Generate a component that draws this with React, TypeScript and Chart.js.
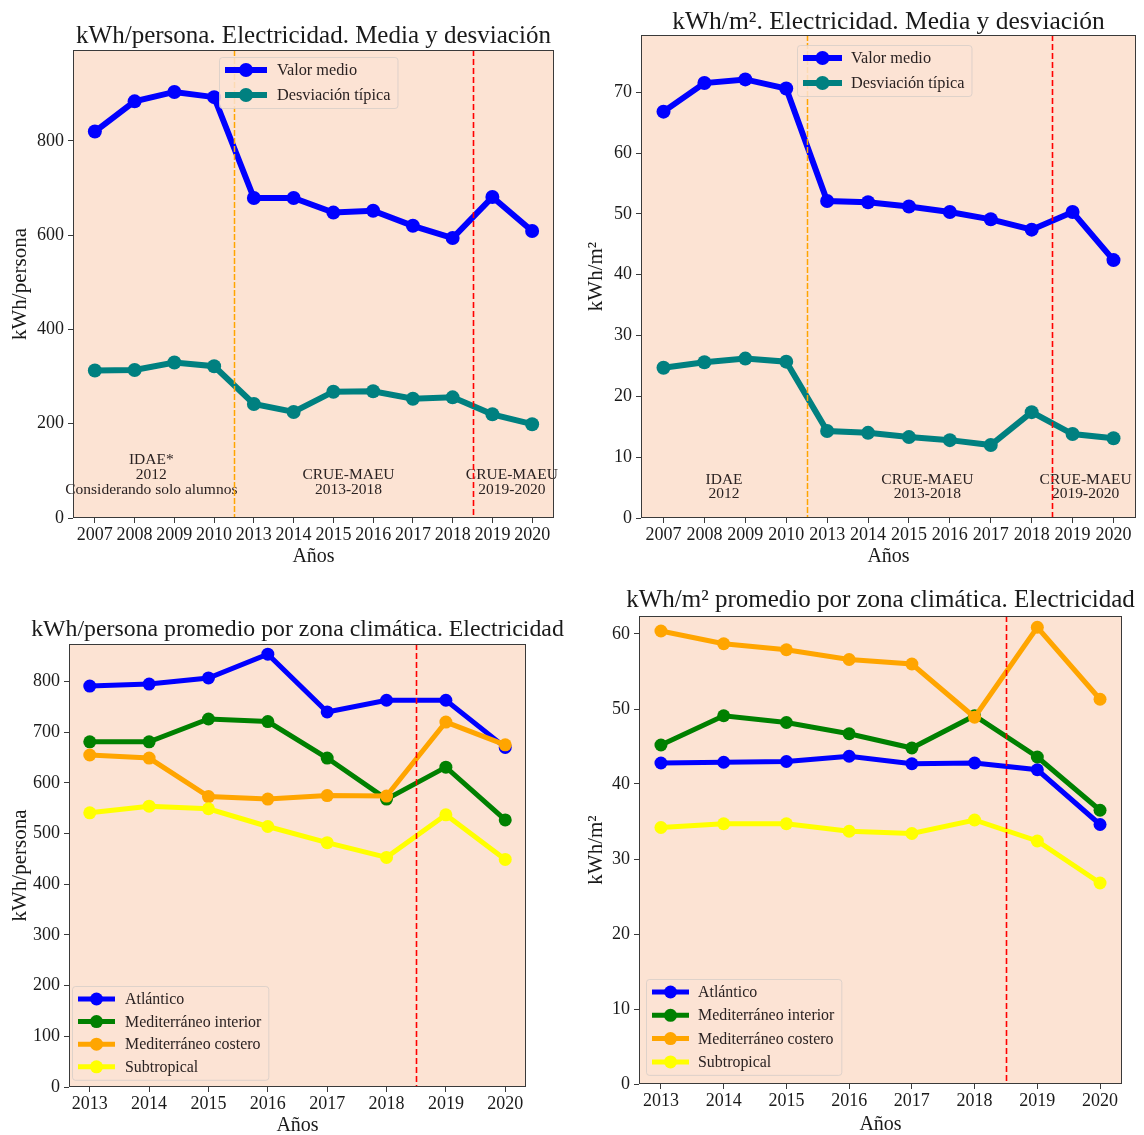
import React, { useEffect, useRef } from 'react';
import { Chart, registerables } from 'chart.js';
Chart.register(...registerables);

// ---------- data ----------
const yearsTop = ['2007', '2008', '2009', '2010', '2013', '2014', '2015', '2016', '2017', '2018', '2019', '2020'];
const yearsBottom = ['2013', '2014', '2015', '2016', '2017', '2018', '2019', '2020'];

const mediaPersona = [820, 884, 904, 893, 679, 679, 648, 652, 620, 594, 681, 609];
const desvPersona = [313, 314, 330, 322, 242, 225, 268, 269, 253, 256, 220, 199];
const mediaM2 = [66.8, 71.5, 72.1, 70.6, 52.1, 51.9, 51.2, 50.3, 49.1, 47.4, 50.3, 42.4];
const desvM2 = [24.7, 25.6, 26.2, 25.7, 14.3, 14.0, 13.3, 12.8, 12.0, 17.4, 13.8, 13.1];

const atlPersona = [791, 795, 807, 854, 740, 763, 763, 670];
const medIntPersona = [681, 681, 726, 721, 649, 568, 631, 527];
const medCosPersona = [655, 649, 573, 568, 575, 574, 720, 675];
const subPersona = [541, 554, 549, 514, 482, 453, 537, 449];

const atlM2 = [42.8, 42.9, 43.0, 43.7, 42.7, 42.8, 41.9, 34.6];
const medIntM2 = [45.2, 49.1, 48.2, 46.7, 44.8, 49.1, 43.6, 36.5];
const medCosM2 = [60.4, 58.7, 57.9, 56.6, 56.0, 48.9, 60.9, 51.3];
const subM2 = [34.2, 34.7, 34.7, 33.7, 33.4, 35.2, 32.4, 26.8];

const yTicksPersonaTop = [0, 200, 400, 600, 800];
const yTicksM2Top = [0, 10, 20, 30, 40, 50, 60, 70];
const yTicksPersonaBottom = [0, 100, 200, 300, 400, 500, 600, 700, 800];
const yTicksM2Bottom = [0, 10, 20, 30, 40, 50, 60];

// ---------- styles ----------
const FONT = '"Liberation Serif", "DejaVu Serif", serif';
const BG = '#fce3d3';
const SPINE = '#3a3a3a';
const TEXT = '#1a1a1a';
const BLUE = '#0000ff';
const TEAL = '#008080';
const GREEN = '#008000';
const ORANGE = '#ffa500';
const YELLOW = '#ffff00';
const RED = '#ff0000';

type Series = { label: string; data: number[]; color: string };
type Note = { x: number; y: number; text: string };
type VLine = { x: number; color: string; width: number; dash: number[] };
type Cfg = {
  left: number; top: number; width: number; height: number;
  area: { l: number; t: number; r: number; b: number };
  labels: string[];
  series: Series[];
  yMax: number; yTicks: number[];
  title: string; titleBase: number; titleFont: number;
  yTitle: string; yTitleX: number;
  xTitleBase: number;
  vlines: VLine[];
  notes: Note[];
  legend: { x: number; y: number; gap: number; sample: number; textX: number; font: number };
  lineWidth: number; radius: number;
};

const panels: Cfg[] = [
  {
    left: 0, top: 0, width: 572, height: 570,
    area: { l: 73, t: 50, r: 554, b: 518 },
    labels: yearsTop,
    series: [
      { label: 'Valor medio', data: mediaPersona, color: BLUE },
      { label: 'Desviación típica', data: desvPersona, color: TEAL },
    ],
    yMax: 993, yTicks: yTicksPersonaTop,
    title: 'kWh/persona. Electricidad. Media y desviación', titleBase: 43, titleFont: 25,
    yTitle: 'kWh/persona', yTitleX: 20, xTitleBase: 562,
    vlines: [
      { x: 3.5, color: ORANGE, width: 1.5, dash: [6, 2] },
      { x: 9.5, color: RED, width: 1.6, dash: [6, 3] },
    ],
    notes: [
      { x: 1.42, y: 123, text: 'IDAE*' },
      { x: 1.42, y: 91, text: '2012' },
      { x: 1.42, y: 59, text: 'Considerando solo alumnos' },
      { x: 6.38, y: 91, text: 'CRUE-MAEU' },
      { x: 6.38, y: 59, text: '2013-2018' },
      { x: 10.49, y: 91, text: 'CRUE-MAEU' },
      { x: 10.49, y: 59, text: '2019-2020' },
    ],
    legend: { x: 225, y: 70, gap: 25, sample: 42, textX: 277, font: 16.3 },
    lineWidth: 6, radius: 7,
  },
  {
    left: 572, top: 0, width: 572, height: 570,
    area: { l: 69, t: 35, r: 564, b: 518 },
    labels: yearsTop,
    series: [
      { label: 'Valor medio', data: mediaM2, color: BLUE },
      { label: 'Desviación típica', data: desvM2, color: TEAL },
    ],
    yMax: 79.4, yTicks: yTicksM2Top,
    title: 'kWh/m². Electricidad. Media y desviación', titleBase: 29, titleFont: 25.5,
    yTitle: 'kWh/m²', yTitleX: 24, xTitleBase: 562,
    vlines: [
      { x: 3.5, color: ORANGE, width: 1.5, dash: [6, 2] },
      { x: 9.5, color: RED, width: 1.6, dash: [6, 3] },
    ],
    notes: [
      { x: 1.48, y: 6.24, text: 'IDAE' },
      { x: 1.48, y: 3.94, text: '2012' },
      { x: 6.45, y: 6.24, text: 'CRUE-MAEU' },
      { x: 6.45, y: 3.94, text: '2013-2018' },
      { x: 10.32, y: 6.24, text: 'CRUE-MAEU' },
      { x: 10.32, y: 3.94, text: '2019-2020' },
    ],
    legend: { x: 231, y: 58, gap: 25, sample: 39, textX: 279, font: 16.3 },
    lineWidth: 6, radius: 7,
  },
  {
    left: 0, top: 570, width: 572, height: 565,
    area: { l: 69, t: 74, r: 526, b: 517 },
    labels: yearsBottom,
    series: [
      { label: 'Atlántico', data: atlPersona, color: BLUE },
      { label: 'Mediterráneo interior', data: medIntPersona, color: GREEN },
      { label: 'Mediterráneo costero', data: medCosPersona, color: ORANGE },
      { label: 'Subtropical', data: subPersona, color: YELLOW },
    ],
    yMax: 874, yTicks: yTicksPersonaBottom,
    title: 'kWh/persona promedio por zona climática. Electricidad', titleBase: 66, titleFont: 23.8,
    yTitle: 'kWh/persona', yTitleX: 20, xTitleBase: 561,
    vlines: [{ x: 5.5, color: RED, width: 1.6, dash: [6, 3] }],
    notes: [],
    legend: { x: 78, y: 429, gap: 22.6, sample: 37, textX: 125, font: 15.9 },
    lineWidth: 5, radius: 6.5,
  },
  {
    left: 572, top: 570, width: 572, height: 565,
    area: { l: 67, t: 46, r: 550, b: 514 },
    labels: yearsBottom,
    series: [
      { label: 'Atlántico', data: atlM2, color: BLUE },
      { label: 'Mediterráneo interior', data: medIntM2, color: GREEN },
      { label: 'Mediterráneo costero', data: medCosM2, color: ORANGE },
      { label: 'Subtropical', data: subM2, color: YELLOW },
    ],
    yMax: 62.4, yTicks: yTicksM2Bottom,
    title: 'kWh/m² promedio por zona climática. Electricidad', titleBase: 37, titleFont: 25,
    yTitle: 'kWh/m²', yTitleX: 24, xTitleBase: 560,
    vlines: [{ x: 5.5, color: RED, width: 1.6, dash: [6, 3] }],
    notes: [],
    legend: { x: 80, y: 422, gap: 23.3, sample: 37, textX: 126, font: 15.9 },
    lineWidth: 5, radius: 6.5,
  },
];

function makePlugin(cfg: Cfg) {
  return {
    id: 'panelDeco',
    beforeDraw(chart: any) {
      const { ctx, chartArea: a } = chart;
      ctx.save();
      ctx.fillStyle = '#ffffff';
      ctx.fillRect(0, 0, chart.width, chart.height);
      ctx.fillStyle = BG;
      ctx.fillRect(a.left, a.top, a.right - a.left, a.bottom - a.top);
      // annotations
      const xs = chart.scales.x, ys = chart.scales.y;
      ctx.fillStyle = '#2a2222';
      ctx.font = `15.5px ${FONT}`;
      ctx.textAlign = 'center';
      ctx.textBaseline = 'middle';
      for (const n of cfg.notes) {
        ctx.fillText(n.text, xs.getPixelForValue(n.x), ys.getPixelForValue(n.y));
      }
      ctx.restore();
    },
    afterDatasetsDraw(chart: any) {
      const { ctx, chartArea: a } = chart;
      const xs = chart.scales.x;
      ctx.save();
      for (const v of cfg.vlines) {
        const px = Math.round(xs.getPixelForValue(v.x)) + 0.5;
        ctx.strokeStyle = v.color;
        ctx.lineWidth = v.width;
        ctx.setLineDash(v.dash);
        ctx.beginPath();
        ctx.moveTo(px, a.top);
        ctx.lineTo(px, a.bottom);
        ctx.stroke();
      }
      ctx.setLineDash([]);
      // legend
      const L = cfg.legend;
      ctx.font = `${L.font}px ${FONT}`;
      const tw = Math.max(...cfg.series.map((s) => ctx.measureText(s.label).width));
      const n = cfg.series.length;
      const fl = L.x - 6, fr = L.textX + tw + 7, ft = L.y - 13, fb = L.y + L.gap * (n - 1) + 13;
      ctx.fillStyle = 'rgba(252,227,211,0.85)';
      ctx.strokeStyle = 'rgba(215,205,200,0.8)';
      ctx.lineWidth = 1;
      ctx.beginPath();
      (ctx as any).roundRect(fl + 0.5, ft + 0.5, fr - fl, fb - ft, 3);
      ctx.fill();
      ctx.stroke();
      cfg.series.forEach((s, i) => {
        const y = L.y + L.gap * i;
        ctx.strokeStyle = s.color;
        ctx.lineWidth = cfg.lineWidth;
        ctx.beginPath();
        ctx.moveTo(L.x, y);
        ctx.lineTo(L.x + L.sample, y);
        ctx.stroke();
        ctx.fillStyle = s.color;
        ctx.beginPath();
        ctx.arc(L.x + L.sample / 2, y, cfg.radius, 0, Math.PI * 2);
        ctx.fill();
        ctx.fillStyle = '#2a2222';
        ctx.textAlign = 'left';
        ctx.textBaseline = 'middle';
        ctx.fillText(s.label, L.textX, y + 1);
      });
      ctx.restore();
    },
    afterDraw(chart: any) {
      const { ctx, chartArea: a } = chart;
      ctx.save();
      ctx.strokeStyle = SPINE;
      ctx.lineWidth = 1;
      ctx.strokeRect(a.left + 0.5, a.top + 0.5, a.right - a.left - 1, a.bottom - a.top - 1);
      ctx.fillStyle = TEXT;
      // title
      ctx.font = `${cfg.titleFont}px ${FONT}`;
      ctx.textAlign = 'center';
      ctx.textBaseline = 'alphabetic';
      const cx = (a.left + a.right) / 2;
      ctx.fillText(cfg.title, cx, cfg.titleBase);
      // x title
      ctx.font = `20px ${FONT}`;
      ctx.fillText('Años', cx, cfg.xTitleBase);
      // y title
      ctx.font = `21px ${FONT}`;
      ctx.translate(cfg.yTitleX, (a.top + a.bottom) / 2);
      ctx.rotate(-Math.PI / 2);
      ctx.textBaseline = 'middle';
      ctx.fillText(cfg.yTitle, 0, 0);
      ctx.restore();
    },
  };
}

function Panel({ cfg }: { cfg: Cfg }) {
  const ref = useRef<HTMLCanvasElement>(null);
  useEffect(() => {
    const n = cfg.labels.length;
    const margin = 0.05 * (n - 1);
    const xTickVals = cfg.labels.map((_, i) => i);
    const chart = new Chart(ref.current as HTMLCanvasElement, {
      type: 'line',
      data: {
        datasets: cfg.series.map((s, i) => ({
          label: s.label,
          data: s.data.map((v, j) => ({ x: j, y: v })),
          borderColor: s.color,
          backgroundColor: s.color,
          pointBackgroundColor: s.color,
          pointBorderColor: s.color,
          pointBorderWidth: 0,
          pointRadius: cfg.radius,
          borderWidth: cfg.lineWidth,
          tension: 0,
          fill: false,
          order: cfg.series.length - i,
        })),
      },
      options: {
        animation: false,
        responsive: false,
        events: [],
        layout: {
          padding: { left: 0, top: cfg.area.t, right: cfg.width - cfg.area.r, bottom: 0 },
        },
        plugins: {
          legend: { display: false },
          title: { display: false },
          tooltip: { enabled: false },
        },
        scales: {
          x: {
            type: 'linear',
            min: -margin,
            max: n - 1 + margin,
            afterBuildTicks: (scale: any) => {
              scale.ticks = xTickVals.map((v) => ({ value: v }));
            },
            afterFit: (scale: any) => {
              scale.height = cfg.height - cfg.area.b;
            },
            ticks: {
              autoSkip: false,
              maxRotation: 0,
              minRotation: 0,
              padding: 1,
              color: TEXT,
              font: { family: FONT, size: 18 },
              callback: (v: any) => cfg.labels[Math.round(Number(v))] ?? '',
            },
            grid: { display: true, drawOnChartArea: false, drawTicks: true, tickLength: 5, tickColor: SPINE },
            border: { display: false },
          },
          y: {
            type: 'linear',
            min: 0,
            max: cfg.yMax,
            afterBuildTicks: (scale: any) => {
              scale.ticks = cfg.yTicks.map((v) => ({ value: v }));
            },
            afterFit: (scale: any) => {
              scale.width = cfg.area.l;
            },
            ticks: {
              autoSkip: false,
              padding: 4,
              color: TEXT,
              font: { family: FONT, size: 18 },
              callback: (v: any) => String(v),
            },
            grid: { display: true, drawOnChartArea: false, drawTicks: true, tickLength: 5, tickColor: SPINE },
            border: { display: false },
          },
        },
      },
      plugins: [makePlugin(cfg)],
    } as any);
    return () => chart.destroy();
  }, []);
  return (
    <div style={{ position: 'absolute', left: cfg.left, top: cfg.top, width: cfg.width, height: cfg.height }}>
      <canvas ref={ref} width={cfg.width} height={cfg.height} style={{ width: cfg.width, height: cfg.height, display: 'block' }} />
    </div>
  );
}

export default function App() {
  return (
    <div style={{ position: 'absolute', left: 0, top: 0, width: 1144, height: 1135, background: '#ffffff', overflow: 'hidden' }}>
      {panels.map((p, i) => (
        <Panel key={i} cfg={p} />
      ))}
    </div>
  );
}
